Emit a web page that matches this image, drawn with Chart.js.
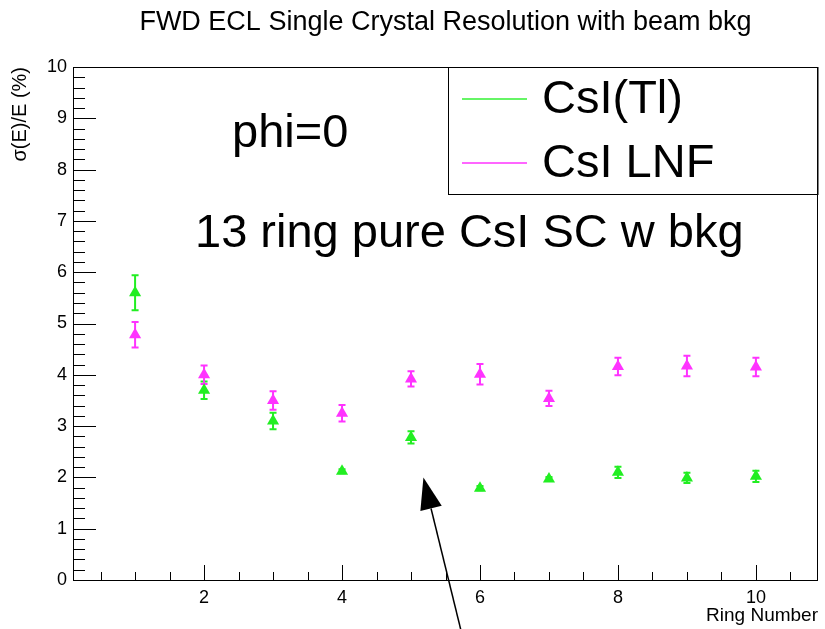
<!DOCTYPE html>
<html>
<head>
<meta charset="utf-8">
<script src="https://cdn.jsdelivr.net/npm/chart.js@4/dist/chart.umd.min.js"></script>
<style>
  body { margin: 0; background: #fff; }
  canvas { display: block; }
</style>
</head>
<body>
<canvas id="resolution-chart" width="825" height="629"></canvas>
<script>
// ring number vs single crystal resolution, two crystal types
const rings = [1, 2, 3, 4, 5, 6, 7, 8, 9, 10];
const csiTl = [5.6, 3.7, 3.1, 2.12, 2.78, 1.79, 1.97, 2.1, 1.99, 2.02];
const csiTlErr = [0.34, 0.17, 0.16, 0.04, 0.12, 0.04, 0.04, 0.11, 0.1, 0.11];
const csiLnf = [4.78, 4.0, 3.5, 3.25, 3.92, 4.01, 3.54, 4.16, 4.17, 4.15];
const csiLnfErr = [0.25, 0.18, 0.18, 0.16, 0.15, 0.2, 0.15, 0.17, 0.2, 0.18];

const xTicks = [2, 4, 6, 8, 10];
const yTicks = [0, 1, 2, 3, 4, 5, 6, 7, 8, 9, 10];

// arrow in data units (tail below the axis, head near ring 5)
const arrowTail = { x: 5.72, y: -0.96 };
const arrowHead = { x: 5.18, y: 2.0 };

const FONT = '"Liberation Sans", Arial, Helvetica, sans-serif';
const GREEN = '#22ee22';
const MAGENTA = '#ff33ff';

function toPoints(ys, errs) {
  return rings.map((r, i) => ({ x: r, y: ys[i], err: errs[i] }));
}

// error bars with small caps, drawn under the markers
const errorBars = {
  id: 'errorBars',
  beforeDatasetsDraw(chart) {
    const ctx = chart.ctx;
    const yScale = chart.scales.y;
    chart.data.datasets.forEach((ds, di) => {
      const meta = chart.getDatasetMeta(di);
      ctx.save();
      ctx.strokeStyle = ds.borderColor;
      ctx.lineWidth = 2;
      meta.data.forEach((pt, i) => {
        const d = ds.data[i];
        const top = yScale.getPixelForValue(d.y + d.err);
        const bot = yScale.getPixelForValue(d.y - d.err);
        ctx.beginPath();
        ctx.moveTo(pt.x, top);
        ctx.lineTo(pt.x, bot);
        ctx.moveTo(pt.x - 3.5, top);
        ctx.lineTo(pt.x + 3.5, top);
        ctx.moveTo(pt.x - 3.5, bot);
        ctx.lineTo(pt.x + 3.5, bot);
        ctx.stroke();
      });
      ctx.restore();
    });
  }
};

// frame, inward ticks, texts, legend box and arrow
const decorations = {
  id: 'decorations',
  afterDraw(chart) {
    const ctx = chart.ctx;
    const a = chart.chartArea;
    const xs = chart.scales.x;
    const ys = chart.scales.y;
    ctx.save();

    // frame
    ctx.strokeStyle = '#000';
    ctx.lineWidth = 1;
    ctx.strokeRect(a.left + 0.5, a.top + 0.5, a.right - a.left - 1, a.bottom - a.top);

    // y ticks: major every 1, minor every 0.2
    ctx.beginPath();
    for (let k = 0; k <= 50; k++) {
      const py = Math.round(ys.getPixelForValue(k * 0.2)) + 0.5;
      const len = k % 5 === 0 ? 23 : 12;
      ctx.moveTo(a.left, py);
      ctx.lineTo(a.left + len, py);
    }
    // x ticks: major every 2, minor every 0.5
    for (let k = 1; k <= 21; k++) {
      const v = k * 0.5;
      const px = Math.round(xs.getPixelForValue(v)) + 0.5;
      const len = v % 2 === 0 ? 15 : 8;
      ctx.moveTo(px, a.bottom);
      ctx.lineTo(px, a.bottom - len);
    }
    ctx.stroke();

    ctx.fillStyle = '#000';
    // title
    ctx.font = '27px ' + FONT;
    ctx.textAlign = 'center';
    ctx.textBaseline = 'alphabetic';
    ctx.fillText('FWD ECL Single Crystal Resolution with beam bkg', (a.left + a.right) / 2, 30);

    // axis titles
    ctx.font = '19px ' + FONT;
    ctx.textAlign = 'right';
    ctx.fillText('Ring Number', a.right, 621);
    ctx.save();
    ctx.translate(20, a.top);
    ctx.rotate(-Math.PI / 2);
    ctx.font = '20px ' + FONT;
    ctx.textBaseline = 'middle';
    ctx.fillText('\u03c3(E)/E (%)', 0, 0);
    ctx.restore();

    // free text
    ctx.font = '47px ' + FONT;
    ctx.textAlign = 'left';
    ctx.fillText('phi=0', 232, 147);
    ctx.fillText('13 ring pure CsI SC w bkg', 195, 247);

    // legend
    ctx.strokeRect(448.5, a.top + 0.5, a.right - 448.5, 127);
    const rowsY = [99, 163];
    chart.data.datasets.forEach((ds, i) => {
      ctx.strokeStyle = ds.legendColor;
      ctx.lineWidth = 2;
      ctx.beginPath();
      ctx.moveTo(462, rowsY[i]);
      ctx.lineTo(527, rowsY[i]);
      ctx.stroke();
      ctx.fillStyle = '#000';
      ctx.font = '47px ' + FONT;
      ctx.textBaseline = 'middle';
      ctx.fillText(ds.label, 542, rowsY[i] + 1);
    });

    // arrow
    const tx = xs.getPixelForValue(arrowTail.x), ty = ys.getPixelForValue(arrowTail.y);
    const hx = xs.getPixelForValue(arrowHead.x), hy = ys.getPixelForValue(arrowHead.y);
    const ang = Math.atan2(hy - ty, hx - tx);
    const headLen = 32, halfW = 11;
    const bx = hx - headLen * Math.cos(ang), by = hy - headLen * Math.sin(ang);
    ctx.strokeStyle = '#000';
    ctx.lineWidth = 1.5;
    ctx.beginPath();
    ctx.moveTo(tx, ty);
    ctx.lineTo(bx, by);
    ctx.stroke();
    ctx.fillStyle = '#000';
    ctx.beginPath();
    ctx.moveTo(hx, hy);
    ctx.lineTo(bx + halfW * Math.sin(ang), by - halfW * Math.cos(ang));
    ctx.lineTo(bx - halfW * Math.sin(ang), by + halfW * Math.cos(ang));
    ctx.closePath();
    ctx.fill();

    ctx.restore();
  }
};

new Chart(document.getElementById('resolution-chart'), {
  type: 'scatter',
  data: {
    datasets: [
      {
        label: 'CsI(Tl)',
        data: toPoints(csiTl, csiTlErr),
        backgroundColor: GREEN,
        borderColor: GREEN,
        legendColor: '#66f566',
        pointStyle: 'triangle',
        pointRadius: 7,
        pointBorderWidth: 0,
      },
      {
        label: 'CsI LNF',
        data: toPoints(csiLnf, csiLnfErr),
        backgroundColor: MAGENTA,
        borderColor: MAGENTA,
        legendColor: '#ff66ff',
        pointStyle: 'triangle',
        pointRadius: 7,
        pointBorderWidth: 0,
      }
    ]
  },
  options: {
    responsive: false,
    animation: false,
    layout: { padding: { top: 67, right: 3, left: 0, bottom: 0 } },
    plugins: {
      legend: { display: false },
      tooltip: { enabled: false },
    },
    scales: {
      x: {
        type: 'linear',
        min: 0.1,
        max: 10.9,
        afterBuildTicks: s => { s.ticks = xTicks.map(v => ({ value: v })); },
        afterFit: s => { s.height = 49; },
        grid: { display: false, drawTicks: false },
        border: { display: false },
        ticks: { color: '#000', padding: 7, font: { family: FONT, size: 18 } },
      },
      y: {
        type: 'linear',
        min: 0,
        max: 10,
        afterBuildTicks: s => { s.ticks = yTicks.map(v => ({ value: v })); },
        afterFit: s => { s.width = 73; },
        grid: { display: false, drawTicks: false },
        border: { display: false },
        ticks: { color: '#000', padding: 6, font: { family: FONT, size: 18 } },
      }
    }
  },
  plugins: [errorBars, decorations]
});
</script>
</body>
</html>
